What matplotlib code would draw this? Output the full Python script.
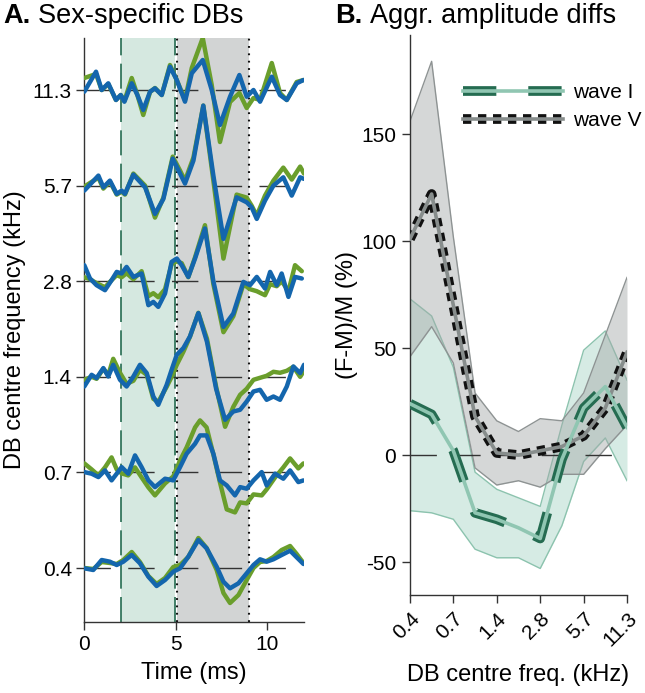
import numpy as np
import matplotlib
matplotlib.use("Agg")
import matplotlib.pyplot as plt
from matplotlib.legend_handler import HandlerTuple

plt.rcParams['font.family'] = ['Liberation Sans', 'DejaVu Sans']
plt.rcParams['lines.scale_dashes'] = False

# ---------------- Panel A data (amplitude in a.u., trace spacing = 95.6) ----------------
db_labels = ['0.4', '0.7', '1.4', '2.8', '5.7', '11.3']

t_04 = [0, 0.49, 0.95, 1.4, 1.77, 2.13, 2.59, 3.04, 3.5, 3.95, 4.41, 4.86, 5.23, 5.68, 6.23, 6.68,
        7.23, 7.6, 7.96, 8.42, 8.87, 9.24, 9.6, 9.96, 10.33, 10.78, 11.24, 11.6, 11.97]
m_04 = [-0.3, -2, 8, 6.3, 3, 6.3, 13, 4.7, -8.7, -18, -12, -3.7, -0.3, 11.3, 28, 19.7,
        1.3, -13.7, -20.3, -15.3, -5.3, 3, 8.7, 6.3, 8.7, 13, 17.3, 10.7, 4]
f_04 = [0, -1, 6, 5, 4, 8, 16, 6, -8, -16, -10, 1, 3, 11, 30, 20,
        -2, -25, -35, -27, -12, 0, 6, 7, 11, 18, 22, 14, 5]

t_07 = [0, 0.4, 0.77, 1.13, 1.49, 1.77, 2.04, 2.4, 2.77, 3.13, 3.5, 3.86, 4.41, 4.86, 5.23, 5.59,
        6.05, 6.32, 6.68, 7.05, 7.41, 7.78, 8.23, 8.51, 8.87, 9.24, 9.69, 9.96, 10.42, 10.87,
        11.24, 11.69, 11.97]
m_07 = [0.3, -1.3, -4.7, 2, -8, -1.3, 5.3, -1.3, 17, 5.3, -8, -14.7, -6.3, -8, 5.3, 18.7,
        28.7, 37, 37, 18.7, -8, -13, -23, -14.7, -16.3, -8, 0.3, -13, -1.3, -6.3,
        2, -9.7, -8]
f_07 = [9, 3, -3, 5, 15, 3, -1, -3, 5, -5, -15, -23, -11, -4, 12, 25,
        45, 52, 45, 18, -10, -37, -40, -30, -31, -22, -23, -17, -5, 5,
        14, 4, 9]

t_14 = [0, 0.4, 0.67, 1.04, 1.31, 1.58, 1.95, 2.31, 2.68, 3.04, 3.41, 3.77, 4.04, 4.5, 4.77, 5.05,
        5.41, 5.77, 6.23, 6.7, 7.2, 7.69, 8.14, 8.51, 8.87, 9.24, 9.6, 9.96, 10.33, 10.69,
        11.06, 11.42, 11.79, 12.0]
m_14 = [-9.7, 2, -1.3, 8.7, 0.3, 12, -3, -9.7, 0.3, 12, 3.7, -19.7, -28, -8, 7, 22,
        28.7, 40.3, 63.7, 35, -12, -43, -34.7, -33, -24.7, -14.7, -13, -23, -19.7, -23,
        -9.7, 10.3, 3.7, 12]
f_14 = [-3, 0, -2, 8, 2, 18, 4, -7, -4, 7, 2, -22, -25, -10, 0, 12,
        25, 40, 64, 38, -10, -50, -30, -18, -12, -3, -1, 1, 5, 4,
        6, 10, 0, 6]

t_28 = [0, 0.31, 0.67, 1.13, 1.49, 1.77, 2.04, 2.31, 2.68, 3.13, 3.5, 3.77, 4.04, 4.41, 4.77, 5.05,
        5.32, 5.68, 6.05, 6.59, 7.05, 7.6, 8.14, 8.69, 9.05, 9.42, 9.87, 10.15, 10.51, 10.78,
        11.15, 11.51, 11.88]
m_28 = [16, 2.7, -4, -9, 1, 9.3, 7.7, 14.3, 4.3, 7.7, -24, -20.7, -25.7, -12.3, 19.3, 22.7,
        16, 4.3, 22.7, 52.7, 0, -45.7, -32.3, -0.7, -4, 4.3, -7.3, 9.3, -4, 7.7,
        -15.7, 4.3, 2.7]
f_28 = [4, 2, -2, -6, 1, 6, 4, 8, 2, 10, -15, -12, -16, -8, 17, 20,
        18, 4, 24, 56, -3, -51, -35, -3, -8, -10, -14, -3, -5, 0,
        -10, 16, 10]

t_57 = [0, 0.77, 1.04, 1.4, 1.77, 2.04, 2.22, 2.68, 3.32, 3.86, 4.32, 4.83, 5.23, 5.5, 5.96, 6.5,
        7.05, 7.6, 8.32, 8.87, 9.14, 9.42, 9.87, 10.33, 10.87, 11.33, 11.79, 12.0]
m_57 = [-5, 10, -1.7, 5, -8.3, -5, -8.3, 11, -1.7, -28.3, -13.3, 27, 12, 2, 25, 80,
        10, -53.3, -11.7, -16.7, -21.7, -33.3, -15, 0, 8.3, -10, 8.3, 6.7]
f_57 = [-1, 8, -3, 4, -9, -6, -9, 12, 0, -32, -12, 29, 15, 5, 28, 80,
        5, -73, -9, -12, -20, -30, -10, 5, 18, 6, 19, 12]

t_113 = [0, 0.64, 0.95, 1.31, 1.73, 1.99, 2.19, 2.59, 2.9, 3.22, 3.59, 3.86, 4.23, 4.68, 5.05, 5.5,
         5.87, 6.47, 6.96, 7.41, 7.96, 8.47, 8.87, 9.24, 9.6, 10.24, 10.69, 11.06, 11.6, 11.97]
m_113 = [-1.7, 18.3, 0, 6.7, -10, -5, -11.7, 6.7, -5, -20, -1.7, 1.7, -5, 23.3, 10, -11.7,
         16.7, 30, 0, -35, -6.7, 15, -6.7, 0, -11.7, 13.3, -5, -10, 6.7, 10]
f_113 = [12, 16, 0, 6, -10, -5, -11, 12, -5, -25, -2, 2, -5, 25, 10, -10,
         22, 52, 5, -52, -12, -3, -18, -8, -10, 27, -3, -10, 8, 10]

traces = [(t_04, f_04, m_04), (t_07, f_07, m_07), (t_14, f_14, m_14),
          (t_28, f_28, m_28), (t_57, f_57, m_57), (t_113, f_113, m_113)]
SPACING = 95.6

# ---------------- Panel B data ----------------
db_freqs = [0.354, 0.5, 0.707, 1.0, 1.414, 2.0, 2.83, 4.0, 5.66, 8.0, 11.31]
b_tick_freqs = [0.354, 0.707, 1.414, 2.83, 5.66, 11.31]
b_tick_labels = ['0.4', '0.7', '1.4', '2.8', '5.7', '11.3']
waveV_mean = [101, 122, 70, 18, 1, 0, 2, 4, 9, 22, 48]
waveV_upper = [156, 184, 102, 29, 16, 11, 17, 16, 29, 56, 83]
waveV_lower = [46, 60, 43, -6, -14, -12, -15, -9, -9, 3, 14]
waveI_mean = [24, 19, 2, -27, -30, -34, -39, -2, 22, 32, 13]
waveI_upper = [73, 65, 41, -8, -16, -20, -24, 14, 49, 58, 35]
waveI_lower = [-26, -27, -30, -44, -48, -48, -53, -33, -3, 8, -12]

# colours
F_GREEN = '#6a9e2c'
M_BLUE = '#1466ad'
SPAN_GREEN = '#d5e8e0'
SPAN_GRAY = '#d2d4d4'
DARK_GREEN = '#256c51'
LIGHT_GREEN = '#90c6b2'
GRAY_LINE = '#878d8c'
AX_COL = '#333333'

W, H = 645, 693
fig = plt.figure(figsize=(W / 100, H / 100), dpi=100)

# ================= Panel A =================
axA = fig.add_axes([84.3 / W, 1 - 622 / H, 219.7 / W, (622 - 38) / H])
axA.axvspan(2.0, 4.97, color=SPAN_GREEN, lw=0, zorder=0)
axA.axvspan(5.04, 9.0, color=SPAN_GRAY, lw=0, zorder=0)
axA.axvline(2.0, color=DARK_GREEN, lw=1.2, ls=(0, (18, 6)), zorder=1)
axA.axvline(4.96, color=DARK_GREEN, lw=1.2, ls=(0, (18, 6)), zorder=1)
axA.axvline(5.06, color='#111111', lw=1.5, ls=(0, (1.3, 4)), zorder=1)
axA.axvline(9.0, color='#111111', lw=1.5, ls=(0, (1.3, 4)), zorder=1)

for i, (tt, ff, mm) in enumerate(traces):
    base = i * SPACING
    axA.plot([0, 11], [base, base], color=AX_COL, lw=1.0, ls=(0, (19, 12.5)), zorder=2)
    axA.plot(tt, base + np.array(ff), color=F_GREEN, lw=3.2, solid_joinstyle='round',
             solid_capstyle='round', zorder=3)
    axA.plot(tt, base + np.array(mm), color=M_BLUE, lw=3.2, solid_joinstyle='round',
             solid_capstyle='round', zorder=4)

axA.set_xlim(0, 12)
axA.set_ylim(-54, 530)
axA.set_yticks([i * SPACING for i in range(len(db_labels))])
axA.set_yticklabels(db_labels)
axA.set_xticks([0, 5, 10])
for s in ['top', 'right']:
    axA.spines[s].set_visible(False)
for s in ['left', 'bottom']:
    axA.spines[s].set_color(AX_COL)
    axA.spines[s].set_linewidth(1.0)
axA.tick_params(direction='out', length=6, width=1, color=AX_COL, labelsize=15, pad=3)
axA.set_xlabel('Time (ms)', fontsize=17, labelpad=6)
axA.set_ylabel('DB centre frequency (kHz)', fontsize=17, labelpad=5)
fig.text(3 / W, 1 - 16 / H, 'A.', fontsize=19.5, fontweight='bold', va='center', ha='left')
fig.text(38 / W, 1 - 16 / H, 'Sex-specific DBs', fontsize=19.5, va='center', ha='left')

# ================= Panel B =================
axB = fig.add_axes([410 / W, 1 - 595 / H, 217 / W, (595 - 35) / H])
axB.set_xscale('log', base=2)

axB.fill_between(db_freqs, waveI_lower, waveI_upper, color='#9fd0bf', alpha=0.42, lw=0, zorder=1)
axB.plot(db_freqs, waveI_upper, color='#8cc3ae', lw=1.0, zorder=1.5)
axB.plot(db_freqs, waveI_lower, color='#8cc3ae', lw=1.0, zorder=1.5)
axB.fill_between(db_freqs, waveV_lower, waveV_upper, color='#a3a8a8', alpha=0.45, lw=0, zorder=2)
axB.plot(db_freqs, waveV_upper, color='#8e9393', lw=1.0, zorder=2.5)
axB.plot(db_freqs, waveV_lower, color='#8e9393', lw=1.0, zorder=2.5)

axB.plot([db_freqs[0], 9.3], [0, 0], color=AX_COL, lw=1.0, ls=(0, (19, 12.5)), zorder=3)

v_dash, = axB.plot(db_freqs, waveV_mean, color='#111111', lw=7, ls=(0, (6, 4.8)),
                   dash_capstyle='butt', zorder=4)
v_line, = axB.plot(db_freqs, waveV_mean, color=GRAY_LINE, lw=2.6, zorder=5)
i_dash, = axB.plot(db_freqs, waveI_mean, color=DARK_GREEN, lw=7, ls=(0, (24, 23)),
                   dash_capstyle='butt', zorder=6)
i_line, = axB.plot(db_freqs, waveI_mean, color=LIGHT_GREEN, lw=2.6, zorder=7)

axB.set_xlim(db_freqs[0], db_freqs[-1])
axB.set_ylim(-65.4, 196.3)
axB.set_yticks([-50, 0, 50, 100, 150])
axB.set_yticklabels(['-50', '0', '50', '100', '150'])
axB.set_xticks(b_tick_freqs)
axB.set_xticklabels(b_tick_labels, rotation=45, ha='right', rotation_mode='anchor')
axB.minorticks_off()
for s in ['top', 'right']:
    axB.spines[s].set_visible(False)
for s in ['left', 'bottom']:
    axB.spines[s].set_color(AX_COL)
    axB.spines[s].set_linewidth(1.0)
axB.tick_params(direction='out', length=6, width=1, color=AX_COL, labelsize=15, pad=4)
axB.set_xlabel('DB centre freq. (kHz)', fontsize=17, labelpad=10)
axB.set_ylabel('(F-M)/M (%)', fontsize=17, labelpad=2)
fig.text(335 / W, 1 - 16 / H, 'B.', fontsize=19.5, fontweight='bold', va='center', ha='left')
fig.text(370 / W, 1 - 16 / H, 'Aggr. amplitude diffs', fontsize=19.5, va='center', ha='left')

leg = axB.legend([(i_dash, i_line), (v_dash, v_line)], ['wave I', 'wave V'],
                 handler_map={tuple: HandlerTuple(ndivide=1, pad=0)},
                 loc='upper left', bbox_to_anchor=(463 / W, 1 - 83 / H),
                 bbox_transform=fig.transFigure, frameon=False, fontsize=15,
                 handlelength=4.8, handletextpad=0.5, labelspacing=0.45, borderpad=0,
                 borderaxespad=0)

fig.savefig('out.png', dpi=100)
